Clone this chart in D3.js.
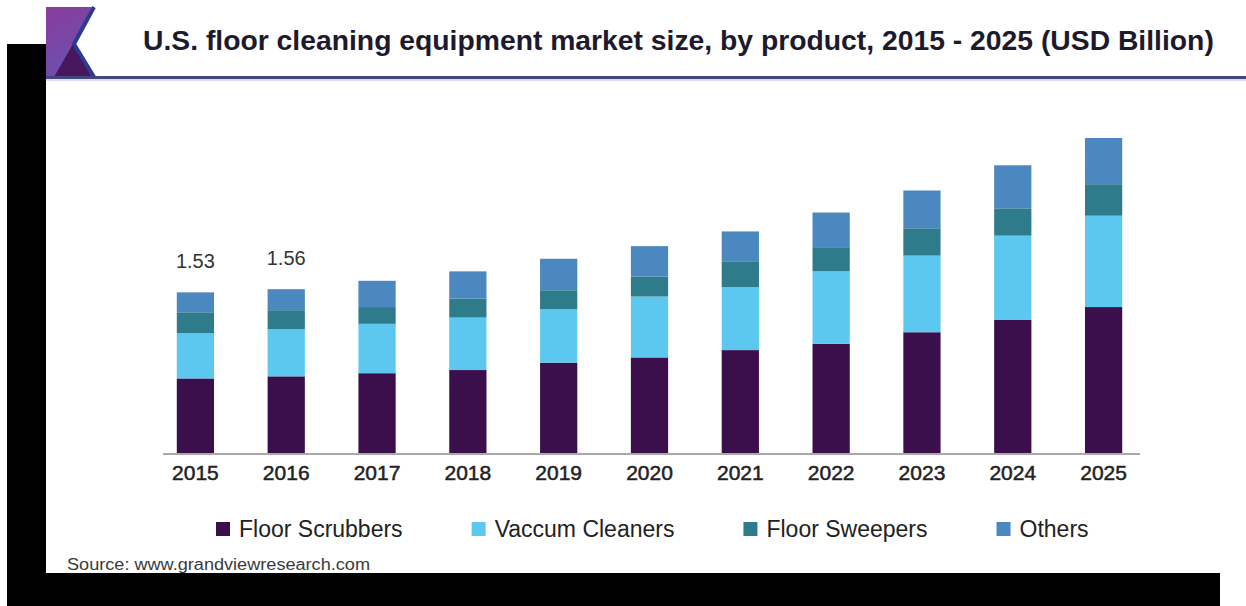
<!DOCTYPE html>
<html>
<head>
<meta charset="utf-8">
<script src="https://cdn.jsdelivr.net/npm/d3@7/dist/d3.min.js"></script>
<style>
  body { margin: 0; background: #ffffff; }
  svg { display: block; font-family: "Liberation Sans", Arial, sans-serif; }
</style>
</head>
<body>
<div id="chart"></div>
<script>
// ===========Data (USD Billion)
var years = ["2015", "2016", "2017", "2018", "2019", "2020", "2021", "2022", "2023", "2024", "2025"];
var floorScrubbers = [0.71, 0.73, 0.76, 0.79, 0.86, 0.91, 0.98, 1.04, 1.15, 1.27, 1.39];
var vacuumCleaners = [0.43, 0.45, 0.47, 0.50, 0.51, 0.58, 0.60, 0.69, 0.73, 0.80, 0.87];
var floorSweepers  = [0.20, 0.18, 0.16, 0.18, 0.18, 0.19, 0.24, 0.23, 0.26, 0.26, 0.30];
var others         = [0.19, 0.20, 0.25, 0.26, 0.30, 0.29, 0.29, 0.33, 0.36, 0.41, 0.44];
var seriesNames = ["Floor Scrubbers", "Vaccum Cleaners", "Floor Sweepers", "Others"];
var seriesColors = ["#3b0f4c", "#5cc8f0", "#2e7b8b", "#4a88bf"];
var labelledYears = {"2015": "1.53", "2016": "1.56"};

var title = "U.S. floor cleaning equipment market size, by product, 2015 - 2025 (USD Billion)";
var source = "Source: www.grandviewresearch.com";

// ===========Set Height, Width
var svgWidth = 1246;
var svgHeight = 606;
var baseY = 453;

var svg = d3.select("#chart").append("svg")
    .attr("width", svgWidth)
    .attr("height", svgHeight);

// build stack table from the arrays
var table = years.map(function(y, i) {
    return {
        year: y,
        "Floor Scrubbers": floorScrubbers[i],
        "Vaccum Cleaners": vacuumCleaners[i],
        "Floor Sweepers": floorSweepers[i],
        "Others": others[i]
    };
});
var stacked = d3.stack().keys(seriesNames)(table);

// ==========Scales
var xScale = d3.scaleBand()
    .domain(years)
    .range([150, 1149])
    .paddingInner(0.59)
    .paddingOuter(0.295);

var yScale = d3.scaleLinear()
    .domain([0, 3])
    .range([baseY, baseY - 315]);

var color = d3.scaleOrdinal().domain(seriesNames).range(seriesColors);

// ===========Header: logo + title + rule
var defs = svg.append("defs");
var grad = defs.append("linearGradient")
    .attr("id", "logoGrad")
    .attr("x1", "0").attr("y1", "0").attr("x2", "0.4").attr("y2", "1");
grad.append("stop").attr("offset", "0").attr("stop-color", "#8a3c9c");
grad.append("stop").attr("offset", "1").attr("stop-color", "#6b50ae");

svg.append("polygon")
    .attr("points", "46,7 92,7 73,44 92,77 46,77")
    .attr("fill", "url(#logoGrad)");
svg.append("polygon")
    .attr("points", "54,77 73,44 92,77")
    .attr("fill", "#46175c");
svg.append("polyline")
    .attr("points", "94,7 74,44 94,77")
    .attr("fill", "none")
    .attr("stroke", "#2c3a90")
    .attr("stroke-width", 4);

svg.append("line")
    .attr("x1", 46).attr("x2", svgWidth)
    .attr("y1", 77.5).attr("y2", 77.5)
    .attr("stroke", "#46467e")
    .attr("stroke-width", 3);
svg.append("line")
    .attr("x1", 46).attr("x2", svgWidth)
    .attr("y1", 80).attr("y2", 80)
    .attr("stroke", "#e4dcef")
    .attr("stroke-width", 2);

svg.append("text")
    .attr("x", 143)
    .attr("y", 50)
    .attr("font-size", 28.3)
    .attr("font-weight", "bold")
    .attr("fill", "#1c1a2c")
    .text(title);

// ===========Bars
var layers = svg.append("g").selectAll("g")
    .data(stacked)
    .enter()
    .append("g")
    .attr("fill", d => color(d.key));

layers.selectAll("rect")
    .data(d => d)
    .enter()
    .append("rect")
    .attr("x", d => xScale(d.data.year))
    .attr("width", xScale.bandwidth())
    .attr("y", d => yScale(d[1]))
    .attr("height", d => yScale(d[0]) - yScale(d[1]));

// total labels on the first two bars
var topLayer = stacked[stacked.length - 1];
svg.append("g").selectAll("text")
    .data(topLayer.filter(d => labelledYears[d.data.year]))
    .enter()
    .append("text")
    .attr("x", d => xScale(d.data.year) + xScale.bandwidth() / 2)
    .attr("y", d => yScale(d[1]) - 24)
    .attr("text-anchor", "middle")
    .attr("font-size", 20)
    .attr("fill", "#333333")
    .text(d => labelledYears[d.data.year]);

// ===========X axis
var bottomAxis = d3.axisBottom(xScale).tickSize(0).tickPadding(12);
var xAxis = svg.append("g")
    .attr("transform", `translate(0, ${baseY})`)
    .call(bottomAxis);
xAxis.select(".domain").remove();
xAxis.selectAll("text")
    .attr("font-family", "Liberation Sans, Arial, sans-serif")
    .attr("font-size", 21)
    .attr("fill", "#222222")
    .attr("stroke", "#222222")
    .attr("stroke-width", 0.5)
    .attr("dy", "0.71em");
svg.append("line")
    .attr("x1", 163).attr("x2", 1140)
    .attr("y1", baseY + 1).attr("y2", baseY + 1)
    .attr("stroke", "#8c8c8c")
    .attr("stroke-width", 1.5);

// ===========Legend
var legend = svg.append("g");
var lx = 216;
seriesNames.forEach(function(name) {
    legend.append("rect")
        .attr("x", lx)
        .attr("y", 522)
        .attr("width", 14)
        .attr("height", 14)
        .attr("fill", color(name));
    var t = legend.append("text")
        .attr("x", lx + 23)
        .attr("y", 537)
        .attr("font-size", 23)
        .attr("fill", "#222222")
        .text(name);
    lx = lx + 23 + t.node().getComputedTextLength() + 69;
});

// ===========Source
svg.append("text")
    .attr("x", 67)
    .attr("y", 570)
    .attr("font-family", "Liberation Sans, Arial, sans-serif")
    .attr("font-size", 16)
    .attr("fill", "#3a3a3a")
    .attr("textLength", 303)
    .attr("lengthAdjust", "spacingAndGlyphs")
    .text(source);

// ===========Black frame pieces
svg.append("rect")
    .attr("x", 7).attr("y", 44)
    .attr("width", 39).attr("height", svgHeight - 44)
    .attr("fill", "#000000");
svg.append("rect")
    .attr("x", 7).attr("y", 573)
    .attr("width", 1213).attr("height", svgHeight - 573)
    .attr("fill", "#000000");
</script>
</body>
</html>
